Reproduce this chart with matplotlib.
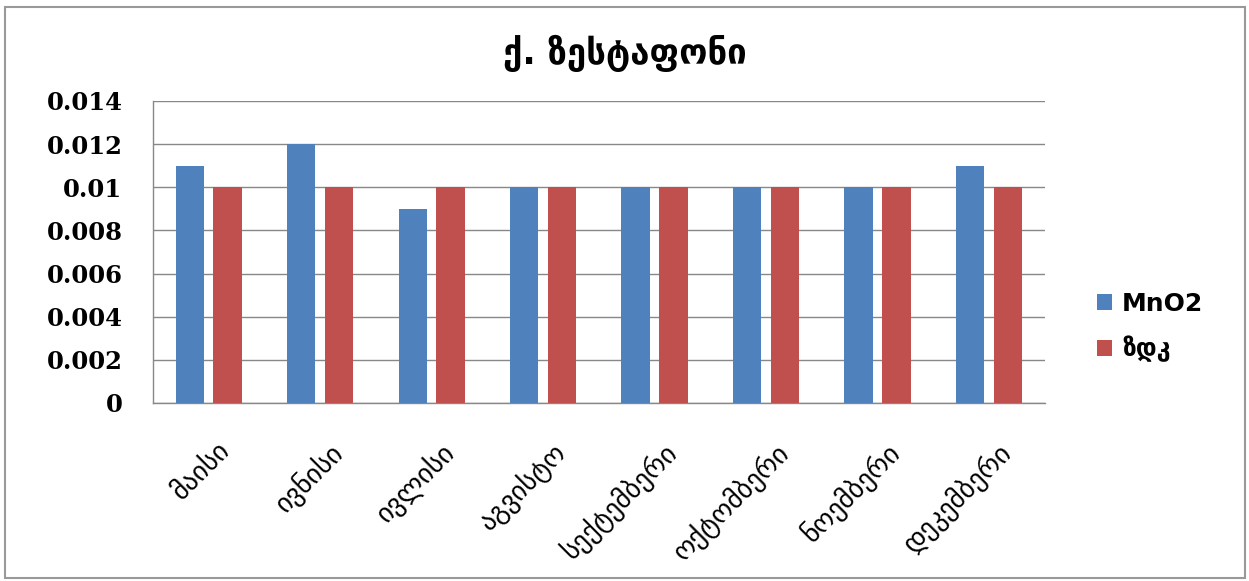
import matplotlib
matplotlib.use("Agg")
import matplotlib.pyplot as plt
import matplotlib.transforms as mtransforms
import numpy as np
from matplotlib.patches import Rectangle

categories = ["მაისი", "ივნისი", "ივლისი", "აგვისტო", "სექტემბერი", "ოქტომბერი", "ნოემბერი", "დეკემბერი"]
mno2 = [0.011, 0.012, 0.009, 0.010, 0.010, 0.010, 0.010, 0.011]
zdk = [0.010, 0.010, 0.010, 0.010, 0.010, 0.010, 0.010, 0.010]
series_names = ["MnO2", "ზდკ"]
title = "ქ. ზესტაფონი"
yticks = [0, 0.002, 0.004, 0.006, 0.008, 0.01, 0.012, 0.014]
ytick_labels = ["0", "0.002", "0.004", "0.006", "0.008", "0.01", "0.012", "0.014"]

plt.rcParams['font.family'] = ['DejaVu Sans']

fig = plt.figure(figsize=(12.49, 5.81), dpi=100)
ax = fig.add_axes([0.1225, 0.3064, 0.714, 0.5198])

x = np.arange(len(categories))
w = 0.255
off = 0.17
ax.bar(x - off, mno2, w, color="#4F81BD", label=series_names[0], zorder=3)
ax.bar(x + off, zdk, w, color="#C0504D", label=series_names[1], zorder=3)

ax.set_xlim(-0.5, len(categories) - 0.5)
ax.set_ylim(0, 0.014)
ax.set_yticks(yticks)
ax.set_yticklabels(ytick_labels, fontsize=17.5, fontweight='bold', family='DejaVu Serif')
ax.yaxis.grid(True, color="#888888", linewidth=1.0, zorder=0)
ax.set_axisbelow(True)
for s in ['top', 'right']:
    ax.spines[s].set_visible(False)
for s in ['left', 'bottom']:
    ax.spines[s].set_color("#888888")
    ax.spines[s].set_linewidth(1.0)
ax.tick_params(axis='y', length=0, pad=22)
ax.tick_params(axis='x', length=0, pad=25)
ax.set_xticks(x)
ax.set_xticklabels(categories, rotation=45, ha='right', va='top', rotation_mode='anchor', fontsize=19.5)
shift = mtransforms.ScaledTranslation(8 / 100, 0, fig.dpi_scale_trans)
for lbl in ax.get_xticklabels():
    lbl.set_transform(lbl.get_transform() + shift)

fig.text(0.5004, 0.908, title, ha='center', va='center', fontsize=25, fontweight='bold')

leg = fig.legend(loc='center left', bbox_to_anchor=(0.8783, 0.4372), frameon=False,
                 borderpad=0, borderaxespad=0,
                 fontsize=18, handlelength=0.6, handleheight=0.6, labelspacing=0.8, handletextpad=0.4)
for t in leg.get_texts():
    t.set_fontweight('bold')

fig.patches.append(Rectangle((0.004, 0.005), 0.993, 0.983, transform=fig.transFigure,
                             fill=False, edgecolor="#999999", linewidth=1.5))

fig.savefig("out.png", dpi=100)
